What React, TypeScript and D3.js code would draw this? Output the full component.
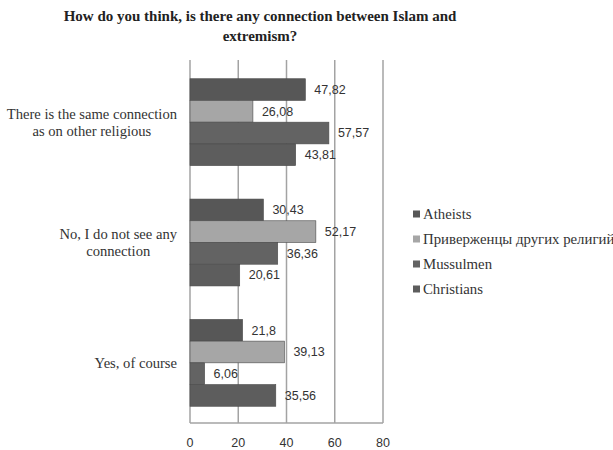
import React from "react";
import * as d3 from "d3";

// Survey answers (top to bottom) and the share of each respondent group, %
const categories: string[][] = [
  ["There is the same connection", "as on other religious"],
  ["No, I do not see any", "connection"],
  ["Yes, of course"],
];
const seriesNames = ["Atheists", "Приверженцы других религий", "Mussulmen", "Christians"];
const atheists = [47.82, 30.43, 21.8];
const otherReligions = [26.08, 52.17, 39.13];
const mussulmen = [57.57, 36.36, 6.06];
const christians = [43.81, 20.61, 35.56];
const valueLabels = [
  ["47,82", "30,43", "21,8"],
  ["26,08", "52,17", "39,13"],
  ["57,57", "36,36", "6,06"],
  ["43,81", "20,61", "35,56"],
];
const xTicks = [0, 20, 40, 60, 80];
const titleLines = ["How do you think, is there any connection between Islam and", "extremism?"];

const seriesValues = [atheists, otherReligions, mussulmen, christians];
const seriesColors = ["#575757", "#a6a6a6", "#636363", "#5d5d5d"];

const W = 613;
const H = 450;
const plot = { left: 190, right: 383, top: 62, bottom: 423 };

const serif = "Liberation Serif, DejaVu Serif, serif";
const sans = "Liberation Sans, Arial, sans-serif";

function textWidth(text: string, font: string): number {
  const canvas = document.createElement("canvas");
  const ctx = canvas.getContext("2d");
  if (!ctx) return text.length * 6;
  ctx.font = font;
  return ctx.measureText(text).width;
}

export default function App() {
  const x = d3.scaleLinear().domain([0, 80]).range([plot.left, plot.right]);
  const yBand = d3
    .scaleBand<number>()
    .domain(categories.map((_, i) => i))
    .range([plot.top, plot.bottom])
    .paddingInner(0.278)
    .paddingOuter(0.139);
  const ySeries = d3
    .scaleBand<number>()
    .domain(seriesNames.map((_, i) => i))
    .range([0, yBand.bandwidth()]);

  const catFontSize = 14.6;
  const catFont = `${catFontSize}px "Liberation Serif"`;

  return (
    <svg
      width={W}
      height={H}
      style={{ position: "absolute", left: 0, top: 0, background: "#fff" }}
    >
      {/* title */}
      {titleLines.map((line, i) => (
        <text
          key={i}
          x={260}
          y={21 + i * 20}
          textAnchor="middle"
          style={{ fontFamily: serif, fontWeight: 700, fontSize: 15 }}
          fill="#222"
        >
          {line}
        </text>
      ))}

      {/* vertical gridlines */}
      {xTicks.map((t) => (
        <line
          key={t}
          x1={x(t)}
          x2={x(t)}
          y1={plot.top - 2}
          y2={plot.bottom}
          stroke="#a3a3a3"
          strokeWidth={1.5}
        />
      ))}
      <line
        x1={x(0)}
        x2={x(80)}
        y1={plot.bottom}
        y2={plot.bottom}
        stroke="#a3a3a3"
        strokeWidth={1.5}
      />

      {/* bars */}
      {seriesValues.map((vals, s) =>
        vals.map((v, c) => {
          const y0 = (yBand(c) ?? 0) + (ySeries(s) ?? 0);
          return (
            <rect
              key={`${s}-${c}`}
              x={x(0)}
              y={y0}
              width={x(v) - x(0)}
              height={ySeries.bandwidth()}
              fill={seriesColors[s]}
              stroke="#4a4a4a"
              strokeWidth={0.6}
            />
          );
        })
      )}

      {/* value labels */}
      {seriesValues.map((vals, s) =>
        vals.map((v, c) => {
          const yc = (yBand(c) ?? 0) + (ySeries(s) ?? 0) + ySeries.bandwidth() / 2;
          return (
            <text
              key={`l-${s}-${c}`}
              x={x(v) + 9}
              y={yc}
              dy="0.35em"
              style={{ fontFamily: sans, fontSize: 12.5 }}
              fill="#333"
            >
              {valueLabels[s][c]}
            </text>
          );
        })
      )}

      {/* category labels */}
      {categories.map((lines, c) => {
        const maxW = Math.max(...lines.map((l) => textWidth(l, catFont)));
        const cx = 177 - maxW / 2;
        const yc = (yBand(c) ?? 0) + yBand.bandwidth() / 2;
        const lh = 17;
        return lines.map((line, i) => (
          <text
            key={`c-${c}-${i}`}
            x={cx}
            y={yc + (i - (lines.length - 1) / 2) * lh}
            dy="0.35em"
            textAnchor="middle"
            style={{ fontFamily: serif, fontSize: catFontSize }}
            fill="#333"
          >
            {line}
          </text>
        ));
      })}

      {/* x tick labels */}
      {xTicks.map((t) => (
        <text
          key={`t-${t}`}
          x={x(t)}
          y={443}
          dy="0.35em"
          textAnchor="middle"
          style={{ fontFamily: sans, fontSize: 12.5 }}
          fill="#333"
        >
          {t}
        </text>
      ))}

      {/* legend */}
      {seriesNames.map((name, s) => {
        const ly = 214 + s * 25;
        return (
          <g key={`lg-${s}`}>
            <rect x={413} y={ly - 3.5} width={7} height={7} fill={seriesColors[s]} />
            <text
              x={423}
              y={ly}
              dy="0.35em"
              style={{ fontFamily: serif, fontSize: 14.8 }}
              fill="#333"
            >
              {name}
            </text>
          </g>
        );
      })}
    </svg>
  );
}
